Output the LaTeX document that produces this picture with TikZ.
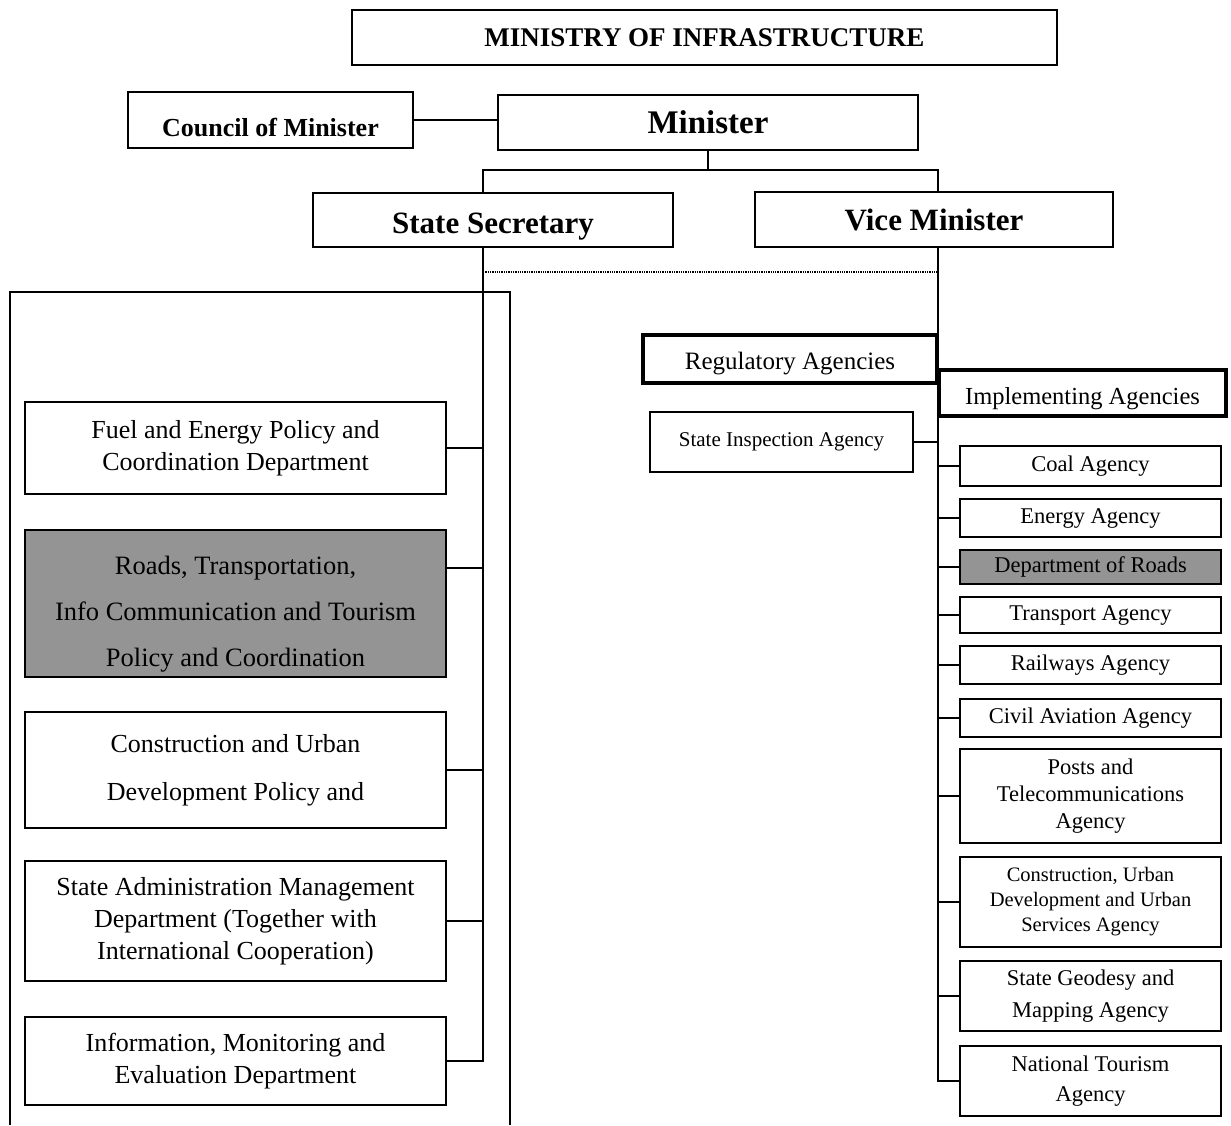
\documentclass[tikz,border=0pt]{standalone}
\usepackage{fontspec}
\setmainfont{Liberation Serif}
\begin{document}
\begin{tikzpicture}[x=1pt,y=-1pt,
  base/.style={draw, line width=2pt, align=center, inner sep=2pt},
  hdr/.style={base, font=\bfseries\fontsize{31}{36}\selectfont},
  lbox/.style={base, minimum width=421pt, font=\fontsize{26}{32}\selectfont},
  rbox/.style={base, minimum width=261pt, font=\fontsize{22.5}{27}\selectfont},
  shaded/.style={fill=black!42},
  agency/.style={base, line width=4pt},
  conn/.style={line width=2pt}
]
\useasboundingbox (0,0) rectangle (1231,1125);

% top levels
\node[base, minimum width=705pt, minimum height=55pt, font=\bfseries\fontsize{27}{30}\selectfont] (ministry) at (704.5,37.5) {MINISTRY OF INFRASTRUCTURE};
\node[base, minimum width=285pt, minimum height=56pt, text height=33pt, text depth=0pt, font=\bfseries\fontsize{26}{30}\selectfont] (council) at (270.5,120) {Council of Minister};
\node[hdr, minimum width=420pt, minimum height=55pt, font=\bfseries\fontsize{33}{36}\selectfont] (minister) at (708,122.5) {Minister};
\node[hdr, minimum width=360pt, minimum height=54pt, text height=33pt, text depth=7pt] (ss) at (493,220) {State Secretary};
\node[hdr, minimum width=358pt, minimum height=55pt] (vm) at (934,219.5) {Vice Minister};

\coordinate (bar) at (0,170);
\coordinate (dotrow) at (0,272);
\coordinate (tL) at (483,247);
\coordinate (tR) at (938,247);

\draw[conn] (council.east) -- (council.east -| minister.west);
\draw[conn] (minister.south) -- (minister.south |- bar);
\draw[conn] (tL |- ss.north) -- (tL |- bar) -- (tR |- bar) -- (tR |- vm.north);
\draw[line width=1.3pt, densely dotted] (tL |- dotrow) -- (tR |- dotrow);

% left frame
\draw[line width=2pt] (10,1125) |- (510,292) -- (510,1125);

% left departments
\node[lbox, minimum height=92pt] (fuel) at (235.5,448) {Fuel and Energy Policy and\\Coordination Department};
\node[lbox, shaded, minimum height=147pt, font=\fontsize{26.5}{46}\selectfont] (roads) at (235.5,603.5) {\rule{0pt}{40pt}Roads, Transportation,\\Info Communication and Tourism\\Policy and Coordination};
\node[lbox, minimum height=116pt, font=\fontsize{26}{48}\selectfont] (constr) at (235.5,770) {Construction and Urban\\Development Policy and};
\node[lbox, minimum height=120pt] (admin) at (235.5,921) {State Administration Management\\Department (Together with\\International Cooperation)};
\node[lbox, minimum height=88pt] (info) at (235.5,1061) {Information, Monitoring and\\Evaluation Department};

\draw[conn] (tL) -- (tL |- info.east) -- (info.east);
\draw[conn] (fuel.east) -- (fuel.east -| tL);
\draw[conn] ([yshift=35.5pt]roads.east) -- ([yshift=35.5pt]roads.east -| tL);
\draw[conn] (constr.east) -- (constr.east -| tL);
\draw[conn] (admin.east) -- (admin.east -| tL);

% right side
\node[agency, minimum width=294pt, minimum height=48pt, text height=26pt, text depth=5pt, font=\fontsize{25}{27}\selectfont] (reg) at (790,359) {Regulatory Agencies};
\node[agency, minimum width=287pt, minimum height=46pt, text height=27pt, text depth=5pt, font=\fontsize{24.5}{27}\selectfont] (impl) at (1082.5,393) {Implementing Agencies};
\node[base, minimum width=263pt, minimum height=60pt, font=\fontsize{21}{25}\selectfont] (insp) at (781.5,442) {State Inspection Agency};

\node[rbox, minimum height=40pt] (coal) at (1090.5,466) {Coal Agency};
\node[rbox, minimum height=38pt] (energy) at (1090.5,518) {Energy Agency};
\node[rbox, shaded, minimum height=34pt] (droads) at (1090.5,567) {Department of Roads};
\node[rbox, minimum height=36pt] (transport) at (1090.5,615) {Transport Agency};
\node[rbox, minimum height=38pt] (rail) at (1090.5,665) {Railways Agency};
\node[rbox, minimum height=38pt] (civil) at (1090.5,718) {Civil Aviation Agency};
\node[rbox, minimum height=94pt] (posts) at (1090.5,796) {Posts and\\Telecommunications\\Agency};
\node[rbox, minimum height=90pt, font=\fontsize{20.5}{25}\selectfont] (cuds) at (1090.5,902) {Construction, Urban\\Development and Urban\\Services Agency};
\node[rbox, minimum height=70pt, font=\fontsize{22.5}{32}\selectfont] (geo) at (1090.5,996) {State Geodesy and\\Mapping Agency};
\node[rbox, minimum height=70pt, font=\fontsize{22.5}{30}\selectfont] (tour) at (1090.5,1081) {National Tourism\\Agency};

\draw[conn] (tR) -- (tR |- tour.west) -- (tour.west);
\draw[conn] (insp.east) -- (insp.east -| tR);
\foreach \b in {coal,energy,droads,transport,rail,civil,posts,cuds,geo}
  \draw[conn] (\b.west) -- (\b.west -| tR);
\end{tikzpicture}
\end{document}
